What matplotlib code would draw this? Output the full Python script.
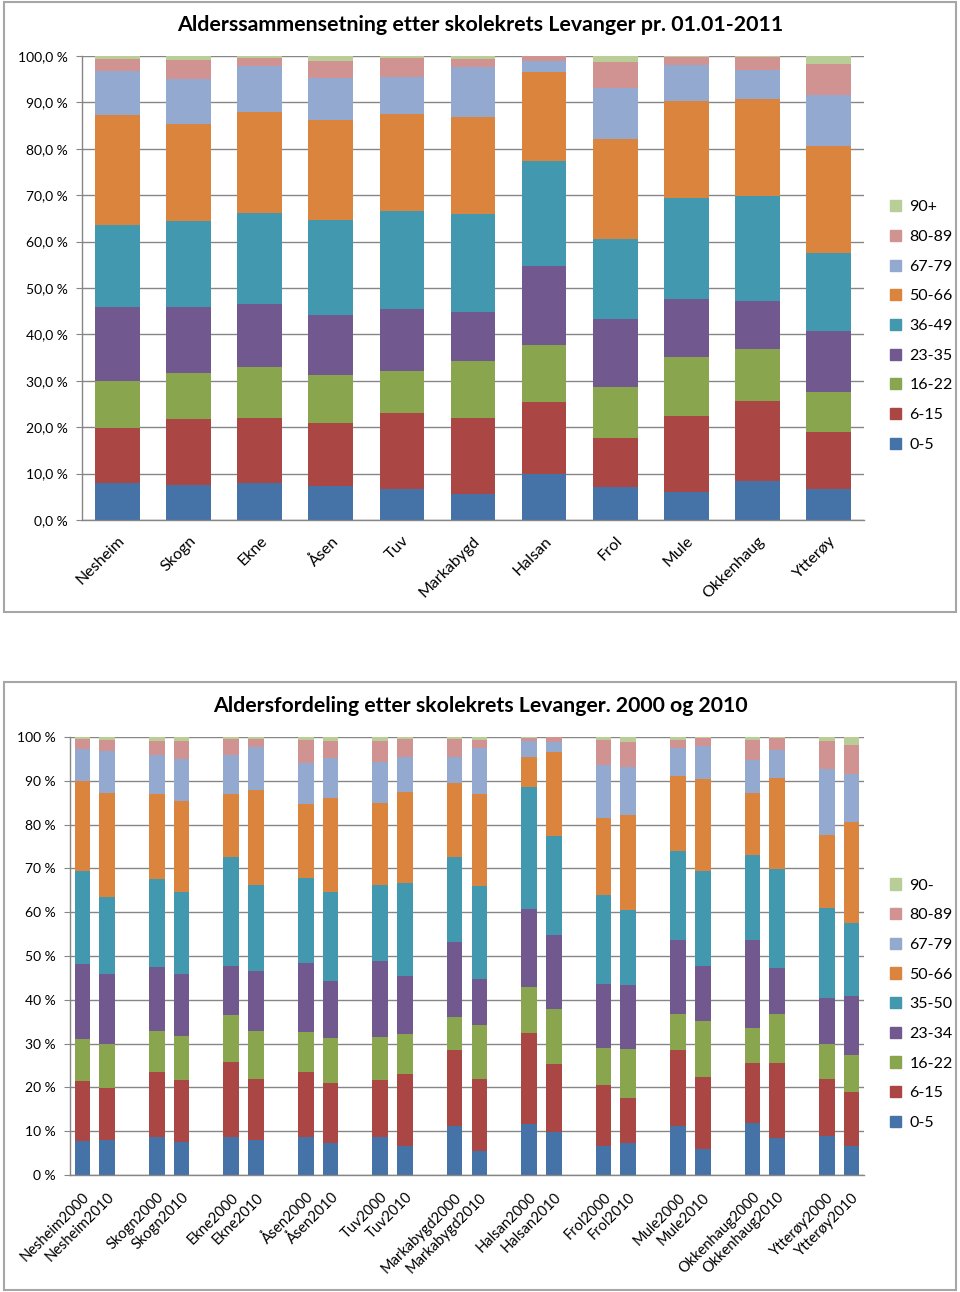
import numpy as np
import matplotlib
matplotlib.use("Agg")
import matplotlib.pyplot as plt
from matplotlib.patches import Rectangle
from matplotlib.ticker import FuncFormatter

plt.rcParams['font.family'] = ['Lato', 'DejaVu Sans']

# -------------------------------------------------------------------
# Data (percent of population per age group, per school district)
# -------------------------------------------------------------------
kretser = ["Nesheim", "Skogn", "Ekne", "Åsen", "Tuv", "Markabygd",
           "Halsan", "Frol", "Mule", "Okkenhaug", "Ytterøy"]

# 01.01-2011 (also used as the 2010 bars in the second chart)
a0_5_2011 = [8.0, 7.6, 8.0, 7.4, 6.7, 5.5, 9.9, 7.2, 6.0, 8.5, 6.6]
a6_15_2011 = [11.9, 14.2, 14.0, 13.5, 16.4, 16.5, 15.5, 10.4, 16.4, 17.1, 12.4]
a16_22_2011 = [10.1, 9.9, 10.9, 10.4, 9.0, 12.3, 12.4, 11.1, 12.8, 11.2, 8.5]
a23_35_2011 = [16.0, 14.1, 13.7, 12.9, 13.4, 10.5, 16.9, 14.6, 12.5, 10.5, 13.3]
a36_49_2011 = [17.5, 18.7, 19.6, 20.5, 21.2, 21.2, 22.7, 17.3, 21.8, 22.5, 16.8]
a50_66_2011 = [23.8, 20.8, 21.7, 21.4, 20.8, 20.9, 19.2, 21.5, 20.8, 20.9, 22.9]
a67_79_2011 = [9.5, 9.7, 9.9, 9.2, 8.0, 10.7, 2.3, 11.1, 7.7, 6.3, 11.0]
a80_89_2011 = [2.6, 4.1, 1.7, 3.7, 4.1, 1.7, 1.0, 5.6, 1.8, 2.7, 6.7]
a90_2011 = [0.6, 0.9, 0.5, 1.0, 0.4, 0.7, 0.1, 1.2, 0.2, 0.3, 1.8]

# 2000
a0_5_2000 = [7.8, 8.6, 8.7, 8.6, 8.7, 11.2, 11.6, 6.7, 11.2, 11.8, 8.9]
a6_15_2000 = [13.7, 14.9, 17.2, 15.0, 13.0, 17.3, 20.9, 13.8, 17.3, 13.8, 13.0]
a16_22_2000 = [9.5, 9.4, 10.6, 9.1, 9.9, 7.5, 10.4, 8.5, 8.2, 8.0, 7.9]
a23_34_2000 = [17.1, 14.7, 11.3, 15.8, 17.3, 17.1, 17.9, 14.5, 17.0, 20.1, 10.5]
a35_50_2000 = [21.4, 19.9, 24.7, 19.3, 17.4, 19.4, 27.8, 20.5, 20.3, 19.4, 20.7]
a50_66_2000 = [20.4, 19.4, 14.5, 16.8, 18.6, 17.1, 6.8, 17.6, 17.1, 14.1, 16.7]
a67_79_2000 = [7.4, 9.1, 9.0, 9.5, 9.3, 5.8, 3.6, 12.1, 6.5, 7.5, 15.1]
a80_89_2000 = [2.2, 3.2, 3.6, 5.3, 4.8, 4.2, 0.8, 5.7, 1.7, 4.7, 6.2]
a90_2000 = [0.5, 0.8, 0.4, 0.6, 1.0, 0.4, 0.2, 0.6, 0.7, 0.6, 1.0]

labels_1 = ["0-5", "6-15", "16-22", "23-35", "36-49", "50-66", "67-79", "80-89", "90+"]
labels_2 = ["0-5", "6-15", "16-22", "23-34", "35-50", "50-66", "67-79", "80-89", "90-"]

colors = ["#4572A7", "#AA4643", "#89A54E", "#71588F", "#4198AF",
          "#DB843D", "#93A9CF", "#D19392", "#B9CD96"]

series_2011 = [a0_5_2011, a6_15_2011, a16_22_2011, a23_35_2011, a36_49_2011,
               a50_66_2011, a67_79_2011, a80_89_2011, a90_2011]
series_2000 = [a0_5_2000, a6_15_2000, a16_22_2000, a23_34_2000, a35_50_2000,
               a50_66_2000, a67_79_2000, a80_89_2000, a90_2000]

GRID = "#868686"


def style_axes(ax, fmt):
    ax.set_ylim(0, 100)
    ax.set_yticks(np.arange(0, 101, 10))
    ax.yaxis.set_major_formatter(FuncFormatter(fmt))
    ax.grid(axis="y", color=GRID, linewidth=1)
    ax.set_axisbelow(True)
    for s in ["top", "right"]:
        ax.spines[s].set_visible(False)
    for s in ["left", "bottom"]:
        ax.spines[s].set_color(GRID)
        ax.spines[s].set_linewidth(1)
    ax.tick_params(axis="y", colors=GRID, length=4, pad=6, labelsize=10,
                   labelcolor="black")
    ax.tick_params(axis="x", length=0)


def add_legend(ax, labels, y):
    handles = [Rectangle((0, 0), 1, 1, color=c) for c in colors]
    ax.legend(handles[::-1], labels[::-1], loc="center left",
              bbox_to_anchor=(1.015, y), frameon=False, fontsize=11.5,
              handlelength=0.7, handleheight=0.7, handletextpad=0.5,
              labelspacing=0.97)


fig = plt.figure(figsize=(9.6, 12.92), dpi=100)
W, H = 960, 1292

# frames around the two charts
fig.patches.append(Rectangle((4 / W, 1 - 612 / H), 952 / W, 610 / H,
                             transform=fig.transFigure, fill=False,
                             edgecolor="#A6A6A6", linewidth=1.5))
fig.patches.append(Rectangle((4 / W, 1 - 1290 / H), 952 / W, 608 / H,
                             transform=fig.transFigure, fill=False,
                             edgecolor="#A6A6A6", linewidth=1.5))

# -------------------------------------------------------------------
# Chart 1: 01.01-2011
# -------------------------------------------------------------------
ax1 = fig.add_axes([82 / W, 1 - 520 / H, 782 / W, 464 / H])
x1 = np.arange(len(kretser))
bottom = np.zeros(len(kretser))
for vals, c, lab in zip(series_2011, colors, labels_1):
    ax1.bar(x1, vals, bottom=bottom, width=0.63, color=c, label=lab)
    bottom += np.array(vals)
ax1.set_xlim(-0.5, len(kretser) - 0.5)
style_axes(ax1, lambda v, p: f"{v:.1f}".replace(".", ",") + " %")
ax1.set_xticks(x1)
ax1.set_xticklabels(kretser, rotation=45, ha="right", va="top",
                    rotation_mode="anchor", fontsize=11.5)
ax1.tick_params(axis="x", pad=10)
add_legend(ax1, labels_1, 0.418)
fig.text(0.5, 1 - 25 / H, "Alderssammensetning etter skolekrets Levanger pr. 01.01-2011",
         ha="center", va="center", fontsize=15.4, fontweight="bold")

# -------------------------------------------------------------------
# Chart 2: 2000 og 2010
# -------------------------------------------------------------------
ax2 = fig.add_axes([70 / W, 1 - 1175 / H, 794 / W, 438 / H])
pos_2000 = np.arange(len(kretser)) * 3
pos_2010 = pos_2000 + 1
b2000 = np.zeros(len(kretser))
b2010 = np.zeros(len(kretser))
for v00, v10, c, lab in zip(series_2000, series_2011, colors, labels_2):
    ax2.bar(pos_2000, v00, bottom=b2000, width=0.63, color=c, label=lab)
    ax2.bar(pos_2010, v10, bottom=b2010, width=0.63, color=c)
    b2000 += np.array(v00)
    b2010 += np.array(v10)
ax2.set_xlim(-0.5, pos_2010[-1] + 0.5)
style_axes(ax2, lambda v, p: f"{v:.0f} %")
ticks2 = np.ravel(np.column_stack([pos_2000, pos_2010]))
ticklabels2 = []
for k in kretser:
    ticklabels2 += [k + "2000", k + "2010"]
ax2.set_xticks(ticks2)
ax2.set_xticklabels(ticklabels2, rotation=45, ha="right", va="top",
                    rotation_mode="anchor", fontsize=10.5)
ax2.tick_params(axis="x", pad=11)
add_legend(ax2, labels_2, 0.39)
fig.text(0.5, 1 - 706 / H, "Aldersfordeling etter skolekrets Levanger. 2000 og 2010",
         ha="center", va="center", fontsize=15.3, fontweight="bold")

fig.savefig("out.png", dpi=100)
